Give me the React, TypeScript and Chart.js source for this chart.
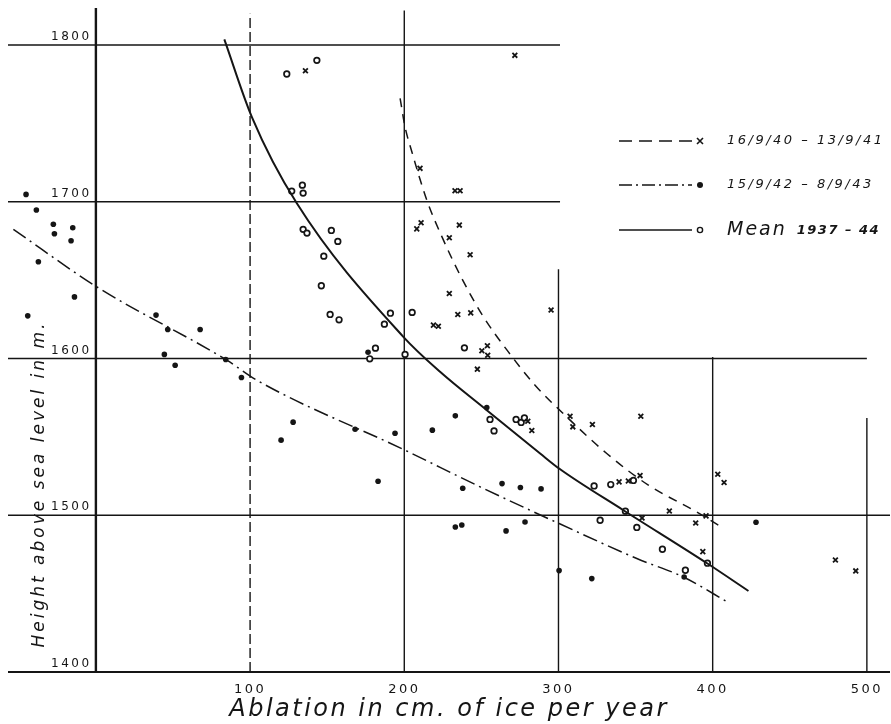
import React, { useEffect, useRef } from 'react';
import { Chart, registerables } from 'chart.js';

Chart.register(...registerables);

// ---------- data ----------
const X_TICKS = [100, 200, 300, 400, 500];
const Y_TICKS = [1400, 1500, 1600, 1700, 1800];

const SERIES_LABELS = ['16/9/40 – 13/9/41', '15/9/42 – 8/9/43', 'Mean 1937 – 44'];
const X_TITLE = 'Ablation in cm. of ice per year';
const Y_TITLE = 'Height above sea level in m.';

// 16/9/40 – 13/9/41 (crosses)
const cross4041X = [135.9, 271.7, 210.2, 208.1, 210.9, 232.9, 236.2, 235.7, 229.2, 242.7, 229.2, 234.7, 243.1, 218.9, 222.1, 250.3, 253.9, 254.1, 247.4, 295.2, 280.1, 282.7, 307.5, 309.3, 322.0, 353.4, 339.3, 345.3, 352.9, 403.3, 407.4, 371.9, 395.7, 354.2, 389.0, 393.6, 479.6, 492.8];
const cross4041Y = [1783.6, 1793.4, 1721.3, 1682.7, 1686.6, 1707.0, 1707.0, 1685.1, 1677.0, 1666.2, 1641.5, 1628.1, 1629.1, 1621.3, 1620.6, 1604.9, 1608.1, 1602.1, 1593.2, 1630.9, 1560.0, 1554.1, 1563.2, 1556.4, 1557.9, 1563.2, 1521.3, 1521.9, 1525.3, 1526.2, 1520.9, 1502.7, 1499.6, 1498.3, 1495.1, 1476.8, 1471.5, 1464.5];

// 15/9/42 – 8/9/43 (filled dots)
const dot4243X = [-45.3, -38.6, -27.6, -26.9, -15.0, -16.1, -37.3, -13.9, -44.2, 39.0, 46.6, 67.6, 44.4, 51.4, 84.2, 94.4, 127.9, 120.1, 168.1, 194.0, 183.0, 176.5, 218.2, 233.1, 237.9, 263.4, 275.3, 288.7, 233.1, 237.3, 266.0, 278.3, 300.4, 321.6, 253.5, 428.1, 381.5];
const dot4243Y = [1704.7, 1694.7, 1685.6, 1679.6, 1683.4, 1675.1, 1661.7, 1639.3, 1627.2, 1627.7, 1618.5, 1618.5, 1602.6, 1595.7, 1599.4, 1587.9, 1559.4, 1547.9, 1554.9, 1552.3, 1521.7, 1604.0, 1554.3, 1563.4, 1517.2, 1520.2, 1517.7, 1516.8, 1492.5, 1493.8, 1490.0, 1495.7, 1464.7, 1459.6, 1568.7, 1495.5, 1460.6];

// Mean 1937 – 44 (open circles)
const meanX = [123.8, 143.3, 127.0, 133.9, 134.4, 134.4, 136.9, 152.7, 156.9, 147.8, 146.2, 151.9, 157.7, 191.0, 187.1, 205.1, 181.3, 177.6, 200.5, 239.0, 255.6, 258.2, 272.5, 275.8, 277.9, 323.1, 333.9, 348.6, 343.4, 327.0, 350.8, 367.4, 396.6, 382.3];
const meanY = [1781.5, 1790.2, 1706.8, 1710.6, 1705.5, 1682.4, 1680.0, 1681.7, 1674.7, 1665.3, 1646.4, 1628.1, 1624.7, 1628.9, 1621.9, 1629.4, 1606.6, 1599.8, 1602.6, 1606.8, 1561.1, 1553.8, 1561.1, 1559.2, 1562.1, 1518.7, 1519.6, 1522.2, 1502.6, 1496.8, 1492.2, 1478.3, 1469.4, 1464.9];

// hand-drawn curves
const curve4041X = [197.3, 200.5, 204.9, 214.6, 225.4, 237.3, 251.3, 267.5, 284.8, 305.4, 331.3, 358.3, 389.7, 404.8];
const curve4041Y = [1766.0, 1747.7, 1731.9, 1701.1, 1675.5, 1651.1, 1626.6, 1604.2, 1583.0, 1562.7, 1539.4, 1519.2, 1502.1, 1493.0];

const curve4243X = [-53.5, 0.6, 84.9, 104.3, 200.5, 249.2, 300.4, 350.8, 381.0, 410.2];
const curve4243Y = [1682.4, 1645.7, 1598.9, 1586.2, 1541.5, 1518.1, 1494.7, 1472.4, 1460.6, 1444.3];

const curveMeanX = [83.3, 101.1, 130.3, 199.4, 223.2, 253.5, 288.1, 300.4, 342.1, 396.6, 423.2];
const curveMeanY = [1803.6, 1754.2, 1699.0, 1613.8, 1591.5, 1567.0, 1539.4, 1529.8, 1503.2, 1469.2, 1451.7];

// axis extent and the drawn (partial) rulings, in data units
const X_MIN = -57;
const X_MAX = 515;
const Y_MIN = 1400;
const Y_MAX = 1823.6;
const H_RULES = [
  [1800, -57, 301],
  [1700, -57, 301],
  [1600, -57, 500],
  [1500, -57, 515],
  [1400, -57, 515],
];
const V_RULES = [
  [0, 1400, 1823.6],
  [100, 1400, 1820],
  [200, 1400, 1822],
  [300, 1400, 1657],
  [400, 1400, 1601],
  [500, 1400, 1562],
];

// ---------- styling ----------
const INK = '#151515';
const FONT = '"DejaVu Sans", sans-serif';
const DASH_4041 = [9, 7];
const DASH_4243 = [15, 5, 2, 5];

function pts(xs: number[], ys: number[]) {
  return xs.map((x, i) => ({ x, y: ys[i] }));
}

function setSpacing(ctx: any, v: string) {
  try { ctx.letterSpacing = v; } catch (e) { /* ignore */ }
}

function drawMarker(ctx: CanvasRenderingContext2D, kind: string, x: number, y: number) {
  ctx.save();
  ctx.strokeStyle = INK;
  ctx.fillStyle = INK;
  ctx.setLineDash([]);
  if (kind === 'cross') {
    ctx.lineWidth = 1.6;
    ctx.beginPath();
    ctx.moveTo(x - 3, y - 3);
    ctx.lineTo(x + 3, y + 3);
    ctx.moveTo(x + 3, y - 3);
    ctx.lineTo(x - 3, y + 3);
    ctx.stroke();
  } else if (kind === 'dot') {
    ctx.beginPath();
    ctx.arc(x, y, 3, 0, Math.PI * 2);
    ctx.fill();
  } else {
    ctx.lineWidth = 1.4;
    ctx.beginPath();
    ctx.arc(x, y, 2.6, 0, Math.PI * 2);
    ctx.stroke();
  }
  ctx.restore();
}

const framePlugin = {
  id: 'frame',
  beforeDraw(chart: any) {
    // the lettering of the original is widely spaced
    setSpacing(chart.ctx, '2.5px');
  },
  beforeDatasetsDraw(chart: any) {
    const { ctx } = chart;
    const xs = chart.scales.x;
    const ys = chart.scales.y;
    ctx.save();
    ctx.strokeStyle = INK;
    ctx.lineCap = 'butt';
    H_RULES.forEach(([v, a, b]) => {
      ctx.lineWidth = v === Y_MIN ? 2 : 1.4;
      const py = ys.getPixelForValue(v);
      ctx.beginPath();
      ctx.moveTo(xs.getPixelForValue(a), py);
      ctx.lineTo(xs.getPixelForValue(b), py);
      ctx.stroke();
    });
    V_RULES.forEach(([v, a, b]) => {
      ctx.lineWidth = v === 0 ? 2.4 : 1.4;
      ctx.setLineDash(v === 100 ? [10, 4] : []);
      const px = xs.getPixelForValue(v);
      ctx.beginPath();
      ctx.moveTo(px, ys.getPixelForValue(a));
      ctx.lineTo(px, ys.getPixelForValue(b));
      ctx.stroke();
    });
    ctx.restore();
  },
  afterDraw(chart: any) {
    const { ctx } = chart;
    ctx.save();
    // legend
    const rows = [
      { y: 141, dash: [13, 7], marker: 'cross' },
      { y: 185, dash: [13, 4, 2, 4], marker: 'dot' },
      { y: 230, dash: [], marker: 'ring' },
    ];
    rows.forEach((r, i) => {
      ctx.strokeStyle = INK;
      ctx.lineWidth = 1.6;
      ctx.setLineDash(r.dash);
      ctx.beginPath();
      ctx.moveTo(619, r.y);
      ctx.lineTo(692, r.y);
      ctx.stroke();
      ctx.setLineDash([]);
      drawMarker(ctx, r.marker, 700, r.y);
      ctx.fillStyle = INK;
      ctx.textBaseline = 'middle';
      ctx.textAlign = 'left';
      const label = SERIES_LABELS[i];
      if (label.startsWith('Mean')) {
        const [word, ...rest] = label.split(' ');
        setSpacing(ctx, '2px');
        ctx.font = `italic 19px ${FONT}`;
        ctx.fillText(word, 727, r.y);
        const w = ctx.measureText(word).width;
        ctx.font = `italic bold 13px ${FONT}`;
        setSpacing(ctx, '1.5px');
        ctx.fillText(rest.join(' '), 727 + w + 10, r.y + 1);
      } else {
        setSpacing(ctx, '2.5px');
        ctx.font = `italic 13px ${FONT}`;
        ctx.fillText(label, 727, r.y);
      }
    });
    // y axis title (sits inside the frame, left of the axis)
    ctx.translate(40, 484);
    ctx.rotate(-Math.PI / 2);
    ctx.font = `italic 17px ${FONT}`;
    setSpacing(ctx, '3px');
    ctx.textAlign = 'center';
    ctx.textBaseline = 'middle';
    ctx.fillStyle = INK;
    ctx.fillText(Y_TITLE, 0, 0);
    ctx.restore();
    setSpacing(ctx, '0px');
  },
};

export default function App() {
  const ref = useRef<HTMLCanvasElement | null>(null);

  useEffect(() => {
    if (!ref.current) return;
    const chart = new Chart(ref.current, {
      type: 'scatter',
      data: {
        datasets: [
          {
            label: SERIES_LABELS[0] + ' curve',
            data: pts(curve4041X, curve4041Y),
            showLine: true,
            borderColor: INK,
            borderWidth: 1.5,
            borderDash: DASH_4041,
            pointRadius: 0,
            cubicInterpolationMode: 'monotone',
          },
          {
            label: SERIES_LABELS[1] + ' curve',
            data: pts(curve4243X, curve4243Y),
            showLine: true,
            borderColor: INK,
            borderWidth: 1.5,
            borderDash: DASH_4243,
            pointRadius: 0,
            cubicInterpolationMode: 'monotone',
          },
          {
            label: SERIES_LABELS[2] + ' curve',
            data: pts(curveMeanX, curveMeanY),
            showLine: true,
            borderColor: INK,
            borderWidth: 2,
            pointRadius: 0,
            cubicInterpolationMode: 'monotone',
          },
          {
            label: SERIES_LABELS[0],
            data: pts(cross4041X, cross4041Y),
            pointStyle: 'crossRot',
            pointRadius: 3.4,
            borderColor: INK,
            borderWidth: 1.8,
          },
          {
            label: SERIES_LABELS[1],
            data: pts(dot4243X, dot4243Y),
            pointStyle: 'circle',
            pointRadius: 2.8,
            backgroundColor: INK,
            borderColor: INK,
            borderWidth: 0,
          },
          {
            label: SERIES_LABELS[2],
            data: pts(meanX, meanY),
            pointStyle: 'circle',
            pointRadius: 2.8,
            backgroundColor: '#ffffff',
            borderColor: INK,
            borderWidth: 1.7,
          },
        ],
      },
      options: {
        animation: false,
        responsive: false,
        maintainAspectRatio: false,
        events: [],
        layout: { autoPadding: false, padding: { left: 8, right: 1, top: 8, bottom: 0 } },
        plugins: {
          legend: { display: false },
          tooltip: { enabled: false },
        },
        scales: {
          x: {
            type: 'linear',
            min: X_MIN,
            max: X_MAX,
            afterBuildTicks: (s: any) => {
              s.ticks = X_TICKS.map((v) => ({ value: v }));
            },
            afterFit: (s: any) => {
              s.height = 52;
              s.paddingLeft = 0;
              s.paddingRight = 0;
            },
            grid: { display: false, drawTicks: false },
            border: { display: false },
            ticks: {
              padding: 10,
              color: INK,
              autoSkip: false,
              maxRotation: 0,
              font: { family: FONT, size: 13 },
              callback: (v: any) => `${v}`,
            },
            title: {
              display: true,
              text: X_TITLE,
              color: INK,
              font: { family: FONT, size: 24, style: 'italic', lineHeight: 1 },
              padding: { top: 0, bottom: 2 },
            },
          },
          y: {
            type: 'linear',
            min: Y_MIN,
            max: Y_MAX,
            afterBuildTicks: (s: any) => {
              s.ticks = Y_TICKS.map((v) => ({ value: v }));
            },
            afterFit: (s: any) => {
              s.width = 0;
              s.paddingTop = 0;
              s.paddingBottom = 0;
            },
            grid: { display: false, drawTicks: false },
            border: { display: false },
            ticks: {
              mirror: true,
              crossAlign: 'near',
              padding: 43,
              labelOffset: -8,
              color: INK,
              autoSkip: false,
              font: { family: FONT, size: 12 },
              callback: (v: any) => `${v}`,
            },
          },
        },
      },
      plugins: [framePlugin],
    } as any);
    return () => chart.destroy();
  }, []);

  return (
    <div style={{ position: 'fixed', left: 0, top: 0, width: 891, height: 724, background: '#fff' }}>
      <canvas ref={ref} width={891} height={724} style={{ display: 'block', width: 891, height: 724 }} />
    </div>
  );
}
